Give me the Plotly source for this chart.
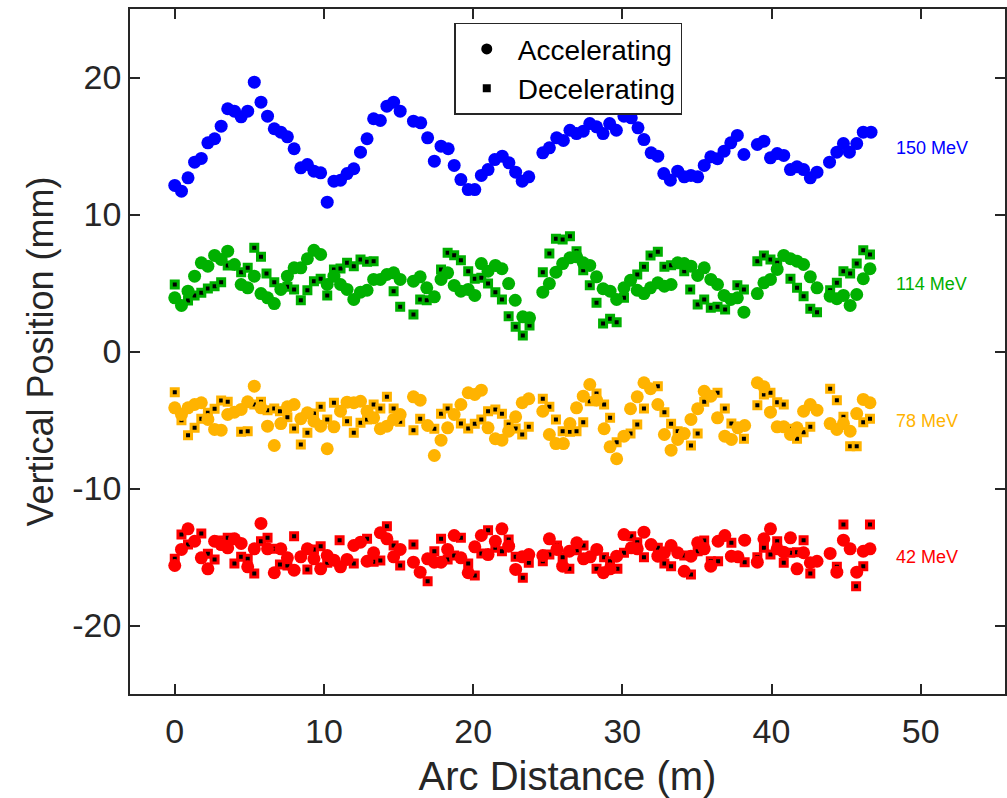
import plotly.graph_objects as go

# Beam position vs. arc distance for four beam energies.
# "acc" = accelerating pass (circles), "dec" = decelerating pass (squares).

x_150_acc = [0.0, 0.45, 0.89, 1.33, 1.78, 2.22, 2.67, 3.11, 3.55, 4.0, 4.45, 4.89, 5.33, 5.78, 6.22, 6.67,
             7.11, 7.55, 8.0, 8.45, 8.89, 9.33, 9.78, 10.22, 10.67, 11.11, 11.55, 12.0, 12.45, 12.89, 13.33,
             13.78, 14.22, 14.67, 15.11, 16.0, 16.49, 16.95, 17.4, 17.85, 18.33, 18.73, 19.18, 19.67, 20.11,
             20.55, 21.0, 21.45, 21.95, 22.4, 22.85, 23.29, 23.73, 24.67, 25.11, 25.6, 26.05, 26.49, 26.93,
             27.38, 27.82, 28.27, 28.71, 29.15, 29.6, 30.11, 30.6, 31.05, 31.45, 31.93, 32.38, 32.78, 33.22,
             33.71, 34.15, 34.6, 35.05, 35.49, 35.93, 36.38, 36.82, 37.27, 37.71, 38.15, 39.05, 39.49, 39.93,
             40.38, 40.82, 41.27, 41.71, 42.15, 42.6, 43.05, 43.89, 44.38, 44.82, 45.22, 45.71, 46.15, 46.67]
y_150_acc = [12.12, 11.70, 12.68, 13.82, 14.09, 15.23, 15.53, 16.45, 17.72, 17.54, 17.13, 17.54, 19.66, 18.20,
             17.18, 16.26, 16.01, 15.67, 14.80, 13.41, 13.65, 13.16, 13.04, 10.90, 12.43, 12.50, 12.99, 13.34,
             14.55, 15.53, 16.99, 16.86, 17.91, 18.20, 17.54, 16.81, 16.69, 15.60, 13.89, 14.99, 14.80, 13.58,
             12.55, 11.82, 11.82, 12.85, 13.28, 14.01, 14.26, 13.77, 13.09, 12.43, 12.75, 14.50, 14.87, 15.60,
             15.40, 16.15, 15.91, 16.08, 16.64, 16.40, 15.91, 16.64, 16.15, 17.18, 17.06, 16.33, 15.47, 14.50,
             14.26, 12.99, 12.50, 13.16, 12.75, 12.85, 12.75, 13.58, 14.21, 14.07, 14.62, 15.23, 15.77, 14.38,
             15.11, 15.35, 14.14, 14.45, 14.31, 13.28, 13.48, 13.28, 12.68, 13.09, 13.82, 14.55, 15.18, 14.55,
             15.18, 16.01, 16.01]

x_114_acc = [0.0, 0.45, 0.89, 1.33, 1.78, 2.22, 2.67, 3.11, 3.55, 4.0, 4.45, 4.89, 5.33, 5.78, 6.22, 6.67,
             7.11, 7.55, 8.0, 8.45, 8.89, 9.33, 9.78, 10.22, 10.67, 11.11, 11.55, 12.0, 12.45, 12.89, 13.33,
             13.78, 14.22, 14.67, 15.11, 16.0, 16.45, 16.89, 17.4, 17.85, 18.29, 18.73, 19.18, 19.67, 20.11,
             20.55, 21.0, 21.49, 21.93, 22.38, 22.82, 23.33, 23.78,
             24.67, 25.11, 25.55, 26.0, 26.49, 26.93, 27.38, 27.82, 28.27, 28.71, 29.18, 29.62, 30.11, 30.55,
             31.0, 31.45, 31.89, 32.38, 32.82, 33.27, 33.71, 34.15, 34.6, 35.05, 35.49, 35.93, 36.38, 36.82,
             37.27, 37.71, 38.15, 39.05, 39.49, 39.93, 40.38, 40.82, 41.27, 41.71, 42.15, 42.6, 43.05, 43.93,
             44.38, 44.82, 45.27, 45.71, 46.15, 46.6]
y_114_acc = [3.92, 3.36, 4.40, 5.50, 6.47, 6.23, 7.01, 6.72, 7.32, 6.35, 4.89, 4.65, 5.50, 4.23, 3.92, 3.50,
             4.53, 5.50, 6.11, 6.11, 6.77, 7.39, 7.08, 4.89, 5.50, 4.89, 4.53, 3.80, 4.33, 4.47, 5.26, 5.26,
             5.62, 5.74, 5.26, 5.13, 5.45, 4.65, 3.99, 5.26, 5.74, 4.82, 4.40, 4.53, 4.09, 6.42, 5.86, 6.28,
             6.04, 4.96, 3.74, 2.53, 2.46,
             4.33, 4.96, 5.79, 6.42, 6.84, 6.91, 6.47, 6.28, 5.45, 4.58, 4.40, 3.80, 4.65, 5.20, 4.47, 4.23,
             4.65, 5.01, 4.77, 4.89, 6.47, 6.42, 6.23, 5.55, 6.11, 5.26, 4.89, 4.09, 3.80, 3.92, 2.87, 4.23,
             5.01, 5.26, 5.99, 7.01, 6.77, 6.59, 6.35, 5.45, 4.65, 4.04, 3.85, 4.09, 3.36, 4.16, 5.31, 6.04]

x_114_dec = [0.0, 0.89, 1.33, 1.78, 2.22, 2.67, 3.11, 3.55, 4.45, 4.89, 5.33, 5.78, 6.15, 6.67, 7.55, 8.0,
             8.45, 8.89, 9.33, 9.78, 10.22, 10.67, 11.11, 11.55, 12.0, 12.45, 12.89, 13.33, 14.67, 15.11,
             16.0, 16.45, 16.89, 17.85, 18.29, 18.73, 19.18, 19.67, 20.11, 20.55, 21.0, 21.49, 21.93, 22.38,
             22.85, 23.33, 23.78,
             24.67, 25.11, 25.55, 26.0, 26.49, 26.93, 27.38, 27.82, 28.27, 28.71, 29.18, 29.62, 30.11, 30.55,
             31.0, 31.45, 31.89, 32.38, 32.82, 33.27, 34.15, 34.55, 35.05, 35.49, 35.93, 36.38, 36.89, 37.71,
             38.15, 39.05, 39.49, 39.93, 40.38, 41.27, 41.71, 42.15, 42.6, 43.05, 43.93, 44.38, 44.82, 45.27,
             45.71, 46.15, 46.6]
y_114_dec = [4.89, 3.72, 4.09, 4.28, 4.60, 4.77, 5.06, 6.28, 5.79, 6.11, 7.57, 6.91, 5.69, 5.06, 4.72, 4.53,
             3.74, 4.47, 5.13, 5.31, 4.09, 5.99, 6.06, 6.47, 6.23, 6.72, 6.55, 6.59, 4.40, 3.26, 2.70, 3.80,
             3.74, 5.99, 7.20, 7.03, 6.66, 5.86, 5.31, 5.38, 4.96, 4.33, 3.80, 2.58, 1.80, 1.17, 1.90,
             5.79, 7.15, 8.23, 8.18, 8.42, 7.32, 5.93, 4.84, 3.55, 2.04, 2.39, 2.14, 3.92, 5.13, 5.62, 6.18,
             7.01, 7.28, 6.18, 6.30, 5.86, 4.53, 3.43, 3.80, 3.19, 3.26, 3.07, 4.84, 4.53, 6.59, 7.01, 6.72,
             6.47, 5.31, 4.65, 4.04, 3.12, 2.87, 4.47, 5.01, 5.86, 5.69, 6.42, 7.39, 7.08]

x_78_acc = [0.0, 0.45, 0.89, 1.33, 1.78, 2.22, 2.67, 3.11, 3.55, 4.0, 4.45, 4.89, 5.33, 5.78, 6.22, 6.67,
            7.11, 7.55, 8.0, 8.45, 8.89, 9.33, 9.78, 10.22, 10.67, 11.11, 11.55, 12.0, 12.45, 12.89, 13.33,
            13.78, 14.22, 14.67, 15.11, 16.0, 16.45, 16.95, 17.4, 17.85, 18.29, 18.73, 19.18, 19.67, 20.11,
            20.55, 21.0, 21.49, 21.93, 22.38, 22.85, 23.29, 23.73,
            24.67, 25.11, 25.55, 26.05, 26.49, 26.93, 27.38, 27.82, 28.27, 28.78, 29.18, 29.62, 30.11, 30.55,
            31.0, 31.45, 31.89, 32.38, 32.82, 33.27, 33.71, 34.15, 34.6, 35.05, 35.49, 35.93, 36.38, 36.87,
            37.31, 37.75, 38.2, 39.05, 39.49, 39.93, 40.38, 40.82, 41.27, 41.71, 42.15, 42.6, 43.05, 43.93,
            44.38, 44.82, 45.27, 45.71, 46.15, 46.6]
y_78_acc = [-4.11, -4.60, -4.11, -3.87, -3.74, -4.96, -5.69, -5.74, -4.60, -4.43, -4.23, -3.67, -2.53, -4.11,
            -5.45, -6.86, -5.26, -4.04, -3.87, -4.91, -4.47, -5.09, -5.45, -7.10, -5.50, -4.36, -3.70, -3.74,
            -3.63, -4.36, -4.84, -5.64, -5.45, -4.96, -4.60, -3.31, -3.55, -5.40, -7.59, -6.47, -5.57, -4.60,
            -3.87, -3.01, -3.14, -2.82, -5.57, -6.37, -6.47, -5.82, -4.77, -3.74, -3.45,
            -4.36, -6.06, -6.72, -6.72, -5.26, -4.11, -3.26, -2.41, -3.55, -5.64, -6.96, -7.83, -6.18, -4.18,
            -3.31, -2.28, -2.72, -3.87, -6.06, -7.20, -6.42, -5.99, -4.96, -4.18, -2.90, -3.26, -4.84, -6.18,
            -6.42, -5.57, -5.40, -2.28, -2.58, -4.43, -5.50, -5.50, -6.06, -5.57, -4.36, -3.87, -4.28, -5.26,
            -5.69, -5.26, -5.82, -4.53, -3.50, -3.74]

x_78_dec = [0.0, 0.45, 0.89, 1.33, 1.78, 2.22, 2.67, 3.11, 3.55, 4.45, 4.89, 5.33, 5.78, 6.22, 6.67, 7.05,
            7.55, 8.0, 8.45, 8.89, 9.33, 9.78, 10.22, 10.67, 11.55, 12.0, 12.45, 12.89, 13.33, 13.78, 14.22,
            14.67, 15.11, 16.0, 16.45, 17.4, 17.85, 18.29, 19.18, 19.67, 20.11, 20.55, 21.0, 21.49, 21.93,
            22.38, 22.85, 23.29, 23.73,
            24.67, 25.11, 25.55, 26.0, 26.49, 26.93, 27.38, 27.82, 28.27, 28.78, 29.18, 29.62, 30.55, 31.0,
            31.45, 32.38, 32.82, 33.27, 33.71, 34.6, 35.05, 35.49, 36.38, 36.87, 37.31, 38.15, 39.05, 39.49,
            39.93, 40.38, 40.82, 41.27, 41.71, 42.15, 42.6, 43.93, 44.38, 44.82, 45.27, 45.71, 46.15, 46.6]
y_78_dec = [-2.97, -5.01, -6.11, -5.57, -4.91, -4.47, -4.18, -3.58, -3.67, -5.86, -5.82, -3.87, -3.67, -4.28,
            -4.16, -4.36, -4.80, -5.62, -6.79, -5.93, -4.53, -4.04, -4.96, -3.74, -5.09, -5.93, -5.20, -4.96,
            -3.87, -4.16, -3.31, -4.16, -5.13, -5.74, -4.91, -5.64, -4.55, -4.16, -5.26, -5.62, -5.28, -4.96,
            -4.36, -4.23, -4.55, -5.33, -5.62, -6.06, -5.50,
            -3.45, -4.04, -4.96, -5.82, -5.86, -5.82, -5.16, -3.63, -3.07, -3.87, -4.84, -6.62, -5.99, -5.33,
            -4.16, -2.53, -4.43, -5.28, -5.82, -6.86, -5.99, -3.67, -3.01, -4.16, -5.26, -6.37, -3.92, -3.14,
            -3.01, -3.70, -3.87, -5.64, -6.37, -5.89, -5.50, -2.72, -3.55, -4.77, -6.91, -6.91, -5.16, -4.91]

x_42_acc = [0.0, 0.45, 0.89, 1.33, 1.78, 2.22, 2.67, 3.11, 3.55, 4.0, 4.45, 4.89, 5.33, 5.78, 6.22, 6.67,
            7.11, 7.55, 8.0, 8.45, 8.89, 9.33, 9.78, 10.22, 10.67, 11.11, 11.55, 12.0, 12.45, 12.89, 13.33,
            13.78, 14.22, 14.67, 15.11, 16.0, 16.45, 16.95, 17.4, 17.85, 18.29, 18.73, 19.18, 19.67, 20.11,
            20.55, 21.0, 21.49, 21.93, 22.38, 22.85, 23.29, 23.73,
            24.67, 25.11, 25.62, 26.0, 26.45, 26.95, 27.4, 27.85, 28.29, 28.73, 29.18, 29.62, 30.11, 30.6,
            31.0, 31.45, 31.93, 32.38, 32.82, 33.27, 33.71, 34.15, 34.6, 35.05, 35.49, 35.93, 36.42, 36.87,
            37.31, 37.75, 38.2, 39.05, 39.49, 39.93, 40.38, 40.82, 41.27, 41.71, 42.15, 42.6, 43.05, 43.93,
            44.38, 44.82, 45.27, 45.71, 46.15, 46.6]
y_42_acc = [-15.62, -14.45, -12.94, -13.85, -15.06, -15.86, -13.85, -14.09, -14.33, -13.67, -14.01, -15.72,
            -14.40, -12.55, -14.40, -16.15, -14.40, -15.06, -15.96, -14.99, -14.40, -15.13, -15.86, -14.89,
            -15.23, -15.72, -15.18, -14.16, -13.92, -15.31, -14.69, -13.23, -13.67, -14.99, -14.45, -15.38,
            -16.11, -15.13, -15.38, -15.38, -14.45, -13.43, -15.06, -16.15, -14.26, -13.43, -14.82, -13.85,
            -12.94, -14.21, -15.91, -14.99, -14.82,
            -14.89, -13.67, -14.45, -15.67, -14.58, -13.96, -15.13, -14.99, -14.45, -16.15, -15.86, -14.94,
            -13.36, -14.33, -14.40, -13.19, -14.09, -14.94, -14.69, -14.16, -14.69, -16.04, -14.94, -13.96,
            -14.40, -15.67, -13.85, -13.43, -14.94, -14.99, -13.77, -15.38, -13.67, -12.94, -14.40, -14.65,
            -13.60, -15.86, -14.69, -15.42, -15.31, -14.74, -16.11, -13.77, -14.40, -16.11, -14.58, -14.40]

x_42_dec = [0.0, 0.45, 0.89, 1.78, 2.22, 2.67, 3.11, 3.55, 4.0, 4.45, 4.89, 5.33, 5.78, 6.22, 6.67, 7.05,
            7.55, 8.0, 8.89, 9.33, 9.78, 10.22, 11.05, 12.0, 12.89, 13.33, 13.78, 14.22, 14.67, 15.11, 16.0,
            16.95, 17.4, 17.85, 18.29, 18.73, 19.18, 19.67, 20.11, 20.55, 21.0, 21.49, 21.93, 22.38, 22.85,
            23.33, 23.73,
            24.67, 25.11, 25.62, 26.0, 26.45, 26.95, 27.4, 28.27, 28.78, 29.18, 29.67, 30.11, 30.6, 31.0,
            31.45, 32.38, 32.82, 33.27, 34.15, 34.6, 35.05, 35.49, 35.93, 36.42, 37.31, 38.2, 39.05, 39.49,
            39.93, 40.38, 40.82, 41.27, 41.71, 42.15, 42.6, 44.38, 44.82, 45.67, 46.15, 46.6]
y_42_dec = [-15.13, -13.36, -14.09, -13.28, -14.77, -15.18, -13.80, -13.60, -15.47, -14.99, -15.13, -16.20,
            -13.85, -13.60, -14.40, -15.55, -15.62, -13.48, -15.91, -14.45, -14.21, -15.42, -13.77, -15.47,
            -13.67, -15.35, -15.26, -12.75, -14.16, -15.62, -14.09, -16.77, -14.58, -13.67, -15.18, -14.89,
            -13.60, -15.47, -16.35, -14.74, -13.04, -14.33, -14.58, -13.72, -14.99, -16.52, -15.42,
            -15.31, -14.82, -14.16, -15.01, -15.86, -14.50, -14.16, -15.86, -15.01, -15.31, -15.86, -14.69,
            -13.48, -13.92, -15.01, -14.33, -15.47, -15.67, -14.89, -16.28, -14.58, -13.80, -15.31, -15.31,
            -13.96, -15.38, -15.01, -14.33, -14.82, -13.85, -15.42, -14.69, -14.65, -13.77, -16.20, -15.72,
            -12.63, -17.13, -15.67, -12.63]

energy_labels = ["150 MeV", "114 MeV", "78 MeV", "42 MeV"]
label_y = [14.85, 4.95, -5.05, -15.0]
label_x = 48.2
colors = ["#0000FF", "#00B000", "#FFB300", "#FF0000"]

x_ticks = [0, 10, 20, 30, 40, 50]
y_ticks = [-20, -10, 0, 10, 20]
y_tick_text = ["-20", "-10", "0", "10", "20"]

series = [
    (x_150_acc, y_150_acc, None, None),
    (x_114_acc, y_114_acc, x_114_dec, y_114_dec),
    (x_78_acc, y_78_acc, x_78_dec, y_78_dec),
    (x_42_acc, y_42_acc, x_42_dec, y_42_dec),
]

FONT = "Liberation Sans, Arial, Helvetica, sans-serif"
AXIS_COLOR = "#262626"

fig = go.Figure()

for (xa, ya, xd, yd), color in zip(series, colors):
    if xd is not None:
        fig.add_trace(go.Scatter(
            x=xd, y=yd, mode="markers", showlegend=False, hoverinfo="skip",
            marker=dict(symbol="square", size=7, color="black",
                        line=dict(color=color, width=3)),
        ))
    fig.add_trace(go.Scatter(
        x=xa, y=ya, mode="markers", showlegend=False, hoverinfo="skip",
        marker=dict(symbol="circle", size=13, color=color, line=dict(width=0)),
    ))

# legend entries (marker style only)
fig.add_trace(go.Scatter(x=[None], y=[None], mode="markers", name="Accelerating",
                         marker=dict(symbol="circle", size=11, color="black", line=dict(width=0))))
fig.add_trace(go.Scatter(x=[None], y=[None], mode="markers", name="Decelerating",
                         marker=dict(symbol="square", size=8, color="black", line=dict(width=0))))

for text, ly, color in zip(energy_labels, label_y, colors):
    fig.add_annotation(x=label_x, y=ly, xref="x", yref="y", text=text, showarrow=False,
                       xanchor="left", yanchor="middle",
                       font=dict(family=FONT, size=18, color=color))

axis_common = dict(
    showline=True, linecolor=AXIS_COLOR, linewidth=1.5, mirror="ticks",
    ticks="inside", ticklen=10, tickwidth=1.5, tickcolor=AXIS_COLOR,
    showgrid=False, zeroline=False,
    tickfont=dict(family=FONT, size=34, color=AXIS_COLOR),
)

fig.update_layout(
    width=1007, height=798,
    margin=dict(l=130, r=0, t=9, b=104),
    paper_bgcolor="white", plot_bgcolor="white",
    font=dict(family=FONT, color=AXIS_COLOR),
    xaxis=dict(range=[-3.0, 55.65], tickvals=x_ticks, ticklabelstandoff=6,
               title=dict(text="Arc Distance (m)", font=dict(family=FONT, size=40, color=AXIS_COLOR),
                          standoff=14),
               **axis_common),
    yaxis=dict(range=[-25, 25], tickvals=y_ticks, ticktext=y_tick_text, ticklabelstandoff=0,
               title=dict(text="Vertical Position (mm)", font=dict(family=FONT, size=36, color=AXIS_COLOR),
                          standoff=8),
               **axis_common),
    legend=dict(x=0.3706, y=0.98, xanchor="left", yanchor="top",
                bgcolor="white", bordercolor=AXIS_COLOR, borderwidth=1.5,
                font=dict(family=FONT, size=28, color="black"),
                itemsizing="trace", itemwidth=52, tracegroupgap=0),
    showlegend=True,
)

fig.write_html("out.html")
